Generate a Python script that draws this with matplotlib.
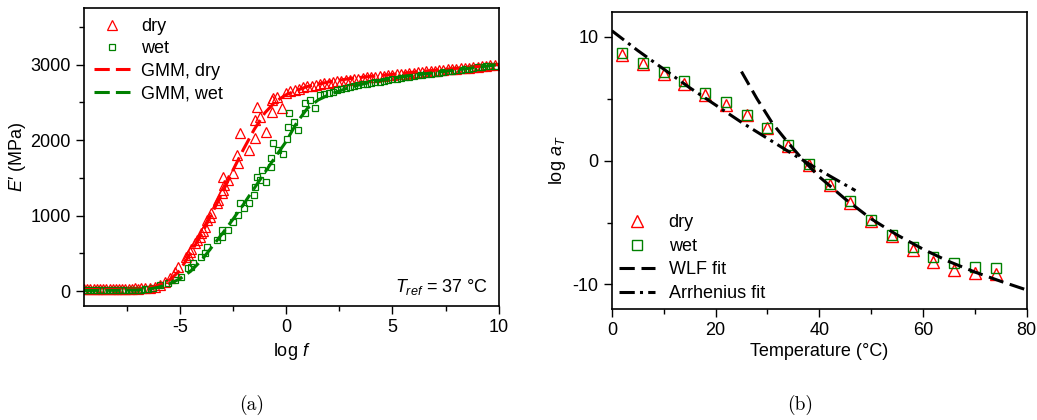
import matplotlib
matplotlib.use('Agg')
import matplotlib.pyplot as plt
import numpy as np

plt.rcParams['font.family'] = ['Liberation Sans', 'DejaVu Sans']
plt.rcParams['mathtext.fontset'] = 'custom'
plt.rcParams['mathtext.rm'] = 'Liberation Sans'
plt.rcParams['mathtext.it'] = 'Liberation Sans:italic'
plt.rcParams['axes.unicode_minus'] = False

FS = 13

# ---- panel (a): storage modulus master curves ----
dry_logf = [-9.5, -9.35, -9.2, -9.05, -8.9, -8.75, -8.6, -8.45, -8.3, -8.15, -8.0, -7.85,
            -7.7, -7.55, -7.4, -7.25, -7.1, -6.95, -6.8, -6.65,
            -6.42, -6.18, -5.94, -5.71, -5.47, -5.24, -5.08, -4.69, -4.61, -4.53, -4.45,
            -4.29, -4.2, -4.05, -3.98, -3.9, -3.82, -3.74, -3.6, -3.51, -3.27, -3.2, -3.03,
            -2.96, -2.96, -2.9, -2.72, -2.48, -2.33, -2.25, -2.17, -1.73, -1.46, -1.46, -1.38,
            -1.23, -0.94, -0.68, -0.68, -0.6, -0.44, -0.2,
            0.0, 0.2, 0.4, 0.6, 0.8, 1.0, 1.2, 1.4, 1.6, 1.8, 2.0, 2.2, 2.4, 2.6, 2.8, 3.0,
            3.2, 3.4, 3.6, 3.8, 4.0, 4.2, 4.4, 4.6, 4.8, 5.0, 5.2, 5.4, 5.6, 5.8, 6.0, 6.2,
            6.4, 6.6, 6.8, 7.0, 7.2, 7.4, 7.6, 7.8, 8.0, 8.2, 8.4, 8.6, 8.8, 9.0, 9.2, 9.4,
            9.6, 9.8]
dry_E = [30, 28, 32, 27, 30, 33, 28, 31, 29, 33, 30, 28,
         32, 30, 33, 31, 35, 34, 38, 40,
         44, 57, 79, 124, 168, 256, 322, 455, 477, 521, 560,
         631, 680, 720, 764, 800, 852, 940, 980, 1029, 1161, 1200, 1294,
         1338, 1514, 1400, 1470, 1558, 1801, 1691, 2088, 1867, 2022, 2265, 2441,
         2309, 2110, 2375, 2530, 2552, 2574, 2419,
         2630, 2650, 2665, 2680, 2700, 2712, 2722, 2732, 2745, 2752, 2762, 2770, 2782, 2788, 2795, 2802,
         2810, 2815, 2822, 2830, 2836, 2842, 2846, 2855, 2860, 2866, 2870, 2876, 2882, 2890, 2894, 2900,
         2906, 2910, 2915, 2920, 2926, 2930, 2936, 2940, 2946, 2950, 2955, 2960, 2966, 2970, 2976, 2980,
         2990, 2995]

wet_logf = [-9.5, -9.35, -9.2, -9.05, -8.9, -8.75, -8.6, -8.45, -8.3, -8.15, -8.0, -7.85,
            -7.7, -7.55, -7.4, -7.25, -7.1, -6.95, -6.8, -6.65, -6.5,
            -6.26, -5.94, -5.55, -5.24, -4.92, -4.61, -4.45, -4.37, -3.98, -3.82, -3.74,
            -3.27, -3.03, -2.99, -2.72, -2.48, -2.25, -2.17, -1.98, -1.73, -1.49, -1.46,
            -1.38, -1.23, -1.15, -0.94, -0.72, -0.72, -0.63, -0.36, -0.16, 0.03, 0.11, 0.16,
            0.35, 0.58, 0.9, 0.9, 1.13, 1.37, 1.6,
            1.8, 2.0, 2.2, 2.4, 2.6, 2.8, 3.0, 3.2, 3.4, 3.6, 3.8, 4.0, 4.2, 4.4, 4.6, 4.8,
            5.0, 5.2, 5.4, 5.6, 5.8, 6.0, 6.2, 6.4, 6.6, 6.8, 7.0, 7.2, 7.4, 7.6, 7.8, 8.0,
            8.2, 8.4, 8.6, 8.8, 9.0, 9.2, 9.4, 9.6, 9.8]
wet_E = [12, 10, 14, 11, 13, 9, 12, 14, 11, 13, 12, 10,
         14, 12, 15, 13, 16, 18, 20, 24, 28,
         35, 79, 102, 146, 190, 300, 322, 366, 455, 499, 587,
         675, 720, 808, 808, 918, 1007, 1170, 1095, 1170, 1272, 1382,
         1514, 1470, 1603, 1448, 1647, 1757, 1956, 1867, 1815, 2009, 2177, 2353,
         2243, 2132, 2353, 2486, 2530, 2419, 2596,
         2605, 2618, 2640, 2660, 2675, 2690, 2705, 2715, 2728, 2738, 2748, 2758, 2768, 2775, 2785, 2795,
         2805, 2815, 2822, 2830, 2840, 2850, 2858, 2866, 2875, 2882, 2888, 2895, 2902, 2910, 2918, 2925,
         2932, 2940, 2948, 2955, 2962, 2968, 2975, 2980, 2985]

gmm_logf = [-9.5, -8.0, -7.0, -6.5, -6.0, -5.5, -5.0, -4.5, -4.0, -3.5, -3.0, -2.5, -2.0, -1.5,
            -1.0, -0.5, 0.0, 0.5, 1.0, 1.5, 2.0, 3.0, 4.0, 5.0, 6.0, 7.0, 8.0, 9.0, 10.0]
gmm_dry = [20, 22, 28, 40, 75, 140, 270, 500, 740, 1020, 1300, 1600, 1880, 2140,
           2360, 2510, 2600, 2660, 2710, 2740, 2770, 2815, 2845, 2870, 2900, 2925, 2950, 2975, 3000]
gmm_wet = [8, 10, 15, 25, 50, 95, 160, 260, 400, 580, 760, 950, 1150, 1360,
           1570, 1780, 1980, 2230, 2420, 2530, 2600, 2700, 2770, 2820, 2860, 2895, 2930, 2965, 3000]

# ---- panel (b): shift factors ----
temp = [2, 6, 10, 14, 18, 22, 26, 30, 34, 38, 42, 46, 50, 54, 58, 62, 66, 70, 74]
log_aT_dry = [8.5, 7.8, 7.0, 6.2, 5.3, 4.5, 3.7, 2.6, 1.2, -0.35, -2.0, -3.4, -4.9, -6.1,
              -7.2, -8.2, -8.8, -9.1, -9.2]
log_aT_wet = [8.7, 7.9, 7.2, 6.4, 5.5, 4.7, 3.7, 2.6, 1.3, -0.3, -1.9, -3.3, -4.8, -6.0,
              -7.0, -7.75, -8.3, -8.6, -8.7]
wlf_T = [25, 28, 31, 34, 37, 40, 45, 50, 55, 60, 65, 70, 75, 80]
wlf_fit = [7.2, 5.0, 3.0, 1.45, 0.0, -1.3, -3.1, -4.7, -6.0, -7.15, -8.15, -9.0, -9.75, -10.45]
arr_T = [0, 5, 10, 15, 20, 25, 30, 35, 40, 45, 47]
arr_fit = [10.5, 8.9, 7.4, 5.9, 4.5, 3.1, 1.8, 0.5, -0.75, -1.95, -2.42]

red = '#ff0000'
green = '#008000'

fig = plt.figure(figsize=(10.37, 4.2), dpi=100)
ax1 = fig.add_axes([0.081, 0.271, 0.400, 0.710])
ax2 = fig.add_axes([0.590, 0.264, 0.400, 0.707])

# panel (a)
ax1.plot(dry_logf, dry_E, ls='none', marker='^', ms=7, mfc='none', mec=red, mew=0.9, label='dry')
ax1.plot(wet_logf, wet_E, ls='none', marker='s', ms=5, mfc='none', mec=green, mew=0.9, label='wet')
ax1.plot(gmm_logf, gmm_dry, ls=(0, (5, 2)), color=red, lw=2.2, label='GMM, dry')
ax1.plot(gmm_logf, gmm_wet, ls=(0, (5, 2)), color=green, lw=2.2, label='GMM, wet')
ax1.set_xlim(-9.5, 10)
ax1.set_ylim(-200, 3750)
ax1.set_xticks([-5, 0, 5, 10])
ax1.set_xticks([-7.5, -2.5, 2.5, 7.5], minor=True)
ax1.set_yticks([0, 1000, 2000, 3000])
ax1.set_yticks([500, 1500, 2500, 3500], minor=True)
ax1.set_xlabel(r'log $f$', fontsize=FS, labelpad=3)
ax1.set_ylabel(r'$E$′ (MPa)', fontsize=FS, labelpad=2)
ax1.text(0.975, 0.03, r'$T_{ref}$ = 37 °C', transform=ax1.transAxes, ha='right', va='bottom',
         fontsize=FS)
ax1.legend(loc='upper left', frameon=False, fontsize=FS, handlelength=2.0, handletextpad=0.6,
           labelspacing=0.3, borderaxespad=0.35, borderpad=0.2)

# panel (b)
ax2.plot(temp, log_aT_dry, ls='none', marker='^', ms=9, mfc='none', mec=red, mew=1.0, label='dry')
ax2.plot(temp, log_aT_wet, ls='none', marker='s', ms=7, mfc='none', mec=green, mew=1.0, label='wet')
ax2.plot(wlf_T, wlf_fit, ls=(0, (5, 2.2)), color='black', lw=2.2, label='WLF fit')
ax2.plot(arr_T, arr_fit, ls=(0, (5, 1.7, 1, 1.7)), color='black', lw=2.2, label='Arrhenius fit')
ax2.set_xlim(0, 80)
ax2.set_ylim(-12, 12)
ax2.set_xticks([0, 20, 40, 60, 80])
ax2.set_xticks([10, 30, 50, 70], minor=True)
ax2.set_yticks([-10, 0, 10])
ax2.set_yticks([-5, 5], minor=True)
ax2.set_xlabel('Temperature (°C)', fontsize=FS, labelpad=3)
ax2.set_ylabel(r'log $a_T$', fontsize=FS, labelpad=3)
ax2.legend(loc='lower left', frameon=False, fontsize=FS, handlelength=2.0, handletextpad=0.75,
           labelspacing=0.36, borderaxespad=0.2, borderpad=0.2)

for ax in (ax1, ax2):
    ax.tick_params(which='both', direction='out', top=False, right=False, labelsize=FS)
    ax.tick_params(which='major', length=6, width=1)
    ax.tick_params(which='minor', length=3.5, width=1)
    for sp in ax.spines.values():
        sp.set_linewidth(1.2)

fig.text(0.243, 0.025, '(a)', family='cmr10', fontsize=14, ha='center')
fig.text(0.772, 0.025, '(b)', family='cmr10', fontsize=14, ha='center')

fig.savefig('out.png', dpi=100)
